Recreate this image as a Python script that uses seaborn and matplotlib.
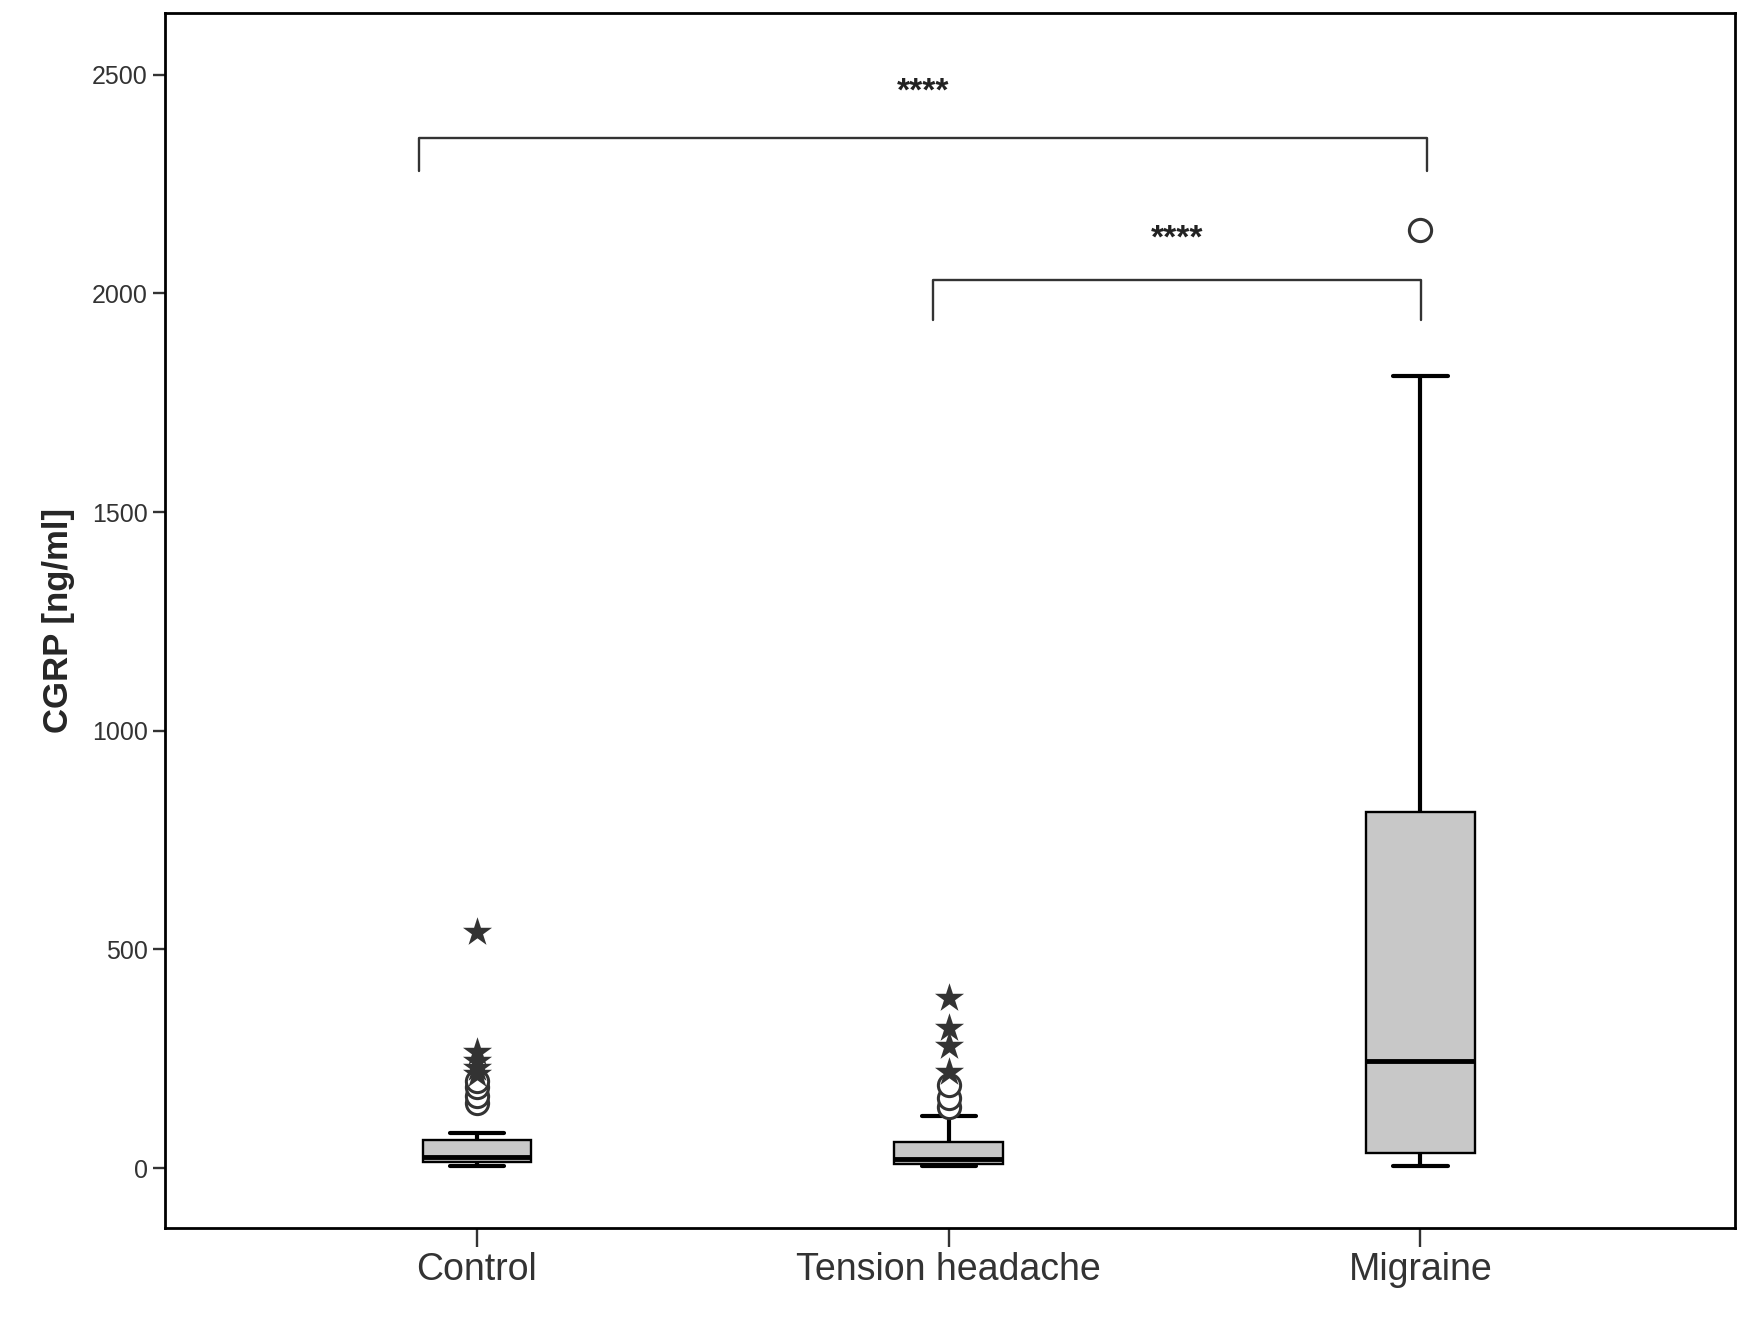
import numpy as np
import pandas as pd
import matplotlib.pyplot as plt
import seaborn as sns

groups = ["Control", "Tension headache", "Migraine"]
# five-number summaries: low whisker, q1, median, q3, high whisker
lows = [5, 5, 5]
q1s = [15, 10, 35]
medians = [25, 20, 245]
q3s = [65, 60, 815]
highs = [80, 120, 1810]

# outliers (circles = mild, stars = extreme)
circle_groups = ["Control"] * 4 + ["Tension headache"] * 3 + ["Migraine"]
circle_values = [150, 165, 185, 200, 140, 160, 190, 2145]
star_groups = ["Control"] * 5 + ["Tension headache"] * 4
star_values = [215, 230, 245, 265, 540, 220, 280, 320, 390]

rows = []
for g, lo, a, m, b, hi in zip(groups, lows, q1s, medians, q3s, highs):
    for v in (lo, a, m, b, hi):
        rows.append({"group": g, "value": v})
df = pd.DataFrame(rows)
circ = pd.DataFrame({"group": circle_groups, "value": circle_values})
stars = pd.DataFrame({"group": star_groups, "value": star_values})

sns.set_style("white")
plt.rcParams["font.family"] = ["Liberation Sans", "DejaVu Sans"]
W, H = 1568, 1190
fig = plt.figure(figsize=(17.47, 13.25), dpi=100)
ax = fig.add_axes([148 / W, 1 - 1103 / H, (1557 - 148) / W, (1103 - 12) / H])

sns.boxplot(data=df, x="group", y="value", order=groups, whis=np.inf, width=0.23,
            color="#c8c8c8", saturation=1, linecolor="black", linewidth=1.7,
            medianprops={"linewidth": 3.5}, whiskerprops={"linewidth": 3},
            capprops={"linewidth": 3}, showfliers=False, ax=ax)
sns.stripplot(data=circ, x="group", y="value", order=groups, jitter=False, marker="o",
              s=16, facecolor="white", edgecolor="#333333", linewidth=2.2, ax=ax)
sns.stripplot(data=stars, x="group", y="value", order=groups, jitter=False, marker="*",
              s=22, color="#333333", ax=ax)

ax.set_ylim(-137, 2640)
ax.set_xlim(-0.661, 2.666)
ax.set_yticks([0, 500, 1000, 1500, 2000, 2500])
ax.tick_params(axis="y", labelsize=18, length=9, width=1.7, direction="out", left=True, colors="#333333")
ax.tick_params(axis="x", labelsize=27, length=14, width=1.7, direction="out", bottom=True, colors="#333333")
for s in ax.spines.values():
    s.set_linewidth(2)
    s.set_color("black")
ax.set_xlabel("")
ax.set_ylabel("CGRP [ng/ml]", fontsize=25, fontweight="bold", labelpad=12)

# significance brackets
def bracket(x0, x1, y, h, text, ty):
    ax.plot([x0, x0, x1, x1], [y - h, y, y, y - h], color="#333333", lw=1.7)
    ax.text((x0 + x1) / 2, ty, text, ha="center", va="center", fontsize=24, fontweight="bold", color="#222222")

bracket(-0.123, 2.014, 2355, 75, "****", 2460)
bracket(0.966, 2.002, 2030, 90, "****", 2125)

fig.savefig("out.png", dpi=100)
